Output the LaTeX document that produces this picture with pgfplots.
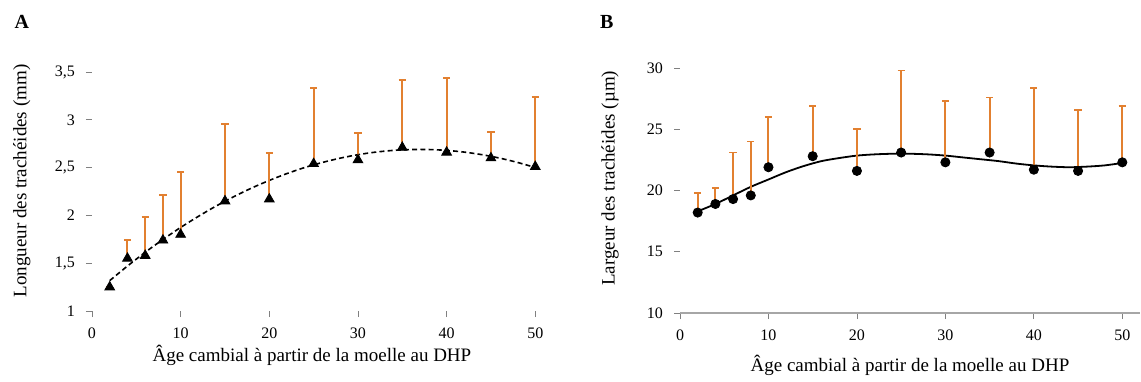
\documentclass[border=0pt]{standalone}
\usepackage{fontspec}
\setmainfont{Liberation Serif}
\usepackage{pgfplots}
\pgfplotsset{compat=1.18}
\definecolor{errorange}{RGB}{226,128,48}
\pgfplotsset{
 panel/.style={
  scale only axis, clip=false,
  axis x line*=bottom, axis y line*=left,
  xmin=0, xmax=52,
  xtick={0,10,...,50},
  tick align=outside,
  major tick length=3pt,
  tick style={gray, line width=0.4pt},
  ticklabel style={font=\fontsize{8}{9}\selectfont},
  xticklabel style={yshift=-2pt},
  yticklabel style={xshift=-2pt},
  label style={font=\fontsize{9.5}{10.5}\selectfont},
  /pgf/number format/assume math mode=true,
  /pgf/number format/use comma,
 },
 ebar/.style={error bars/.cd, y dir=plus, y explicit,
   error bar style={errorange, line width=1pt},
   error mark options={errorange, rotate=90, mark size=1.8pt, line width=0.9pt}},
}
\begin{document}
\begin{tikzpicture}
\path[use as bounding box] (-46pt,-35pt) rectangle (524.5pt,155.5pt);
% Panel A
\begin{axis}[panel, at={(0pt,0pt)}, anchor=south west,
  width=230.5pt, height=119.5pt,
  ymin=1, ymax=3.5, ytick={1,1.5,2,2.5,3,3.5},
  axis line style={draw=none},
  xlabel={Âge cambial à partir de la moelle au DHP},
  xlabel style={at={(axis description cs:0.477,-0.184)}, anchor=center},
  ylabel={Longueur des trachéides (mm)},
  ylabel style={at={(axis description cs:-0.152,0.544)}, anchor=center},
]
\addplot[black, dash pattern=on 2.5pt off 1.6pt, line width=0.8pt, smooth] coordinates {
(2,1.318)(4,1.470)(6,1.614)(8,1.748)(10,1.874)(12,1.990)(14,2.098)(16,2.196)
(18,2.286)(20,2.366)(22,2.438)(24,2.501)(26,2.554)(28,2.599)(30,2.635)(32,2.662)
(34,2.680)(36,2.689)(38,2.689)(40,2.680)(42,2.662)(44,2.635)(46,2.599)(48,2.554)(50,2.501)};
\addplot[only marks, mark=triangle*, mark size=2.8pt, black, ebar]
 table[x=x, y=y, y error=e] {
x y e
2 1.25 0
4 1.55 0.19
6 1.58 0.40
8 1.74 0.47
10 1.80 0.65
15 2.15 0.81
20 2.17 0.48
25 2.54 0.79
30 2.58 0.28
35 2.71 0.71
40 2.66 0.78
45 2.60 0.275
50 2.51 0.73
};
\node[font=\bfseries\fontsize{10}{12}\selectfont] at (axis description cs:-0.152,1.209) {A};
\end{axis}
% Panel B
\begin{axis}[panel, at={(294pt,-1pt)}, anchor=south west,
  width=230pt, height=122.5pt,
  ymin=10, ymax=30, ytick={10,15,20,25,30},
  x axis line style={draw=gray!70, line width=0.7pt},
  y axis line style={draw=none},
  xlabel={Âge cambial à partir de la moelle au DHP},
  xlabel style={at={(axis description cs:0.5,-0.212)}, anchor=center},
  ylabel={Largeur des trachéides (µm)},
  ylabel style={at={(axis description cs:-0.152,0.55)}, anchor=center},
]
\addplot[black, line width=0.9pt, smooth] coordinates {
(2,18.3)(4,18.9)(6,19.6)(8,20.3)(10,20.9)(12,21.5)(14,22.0)(16,22.4)(18,22.65)
(20,22.85)(22,22.95)(24,23.0)(26,23.0)(28,22.95)(30,22.85)(32,22.7)(34,22.55)
(36,22.4)(38,22.2)(40,22.05)(42,21.95)(44,21.9)(46,21.95)(48,22.05)(50,22.25)};
\addplot[only marks, mark=*, mark size=2.3pt, black, ebar]
 table[x=x, y=y, y error=e] {
x y e
2 18.2 1.6
4 18.9 1.3
6 19.3 3.8
8 19.6 4.4
10 21.9 4.1
15 22.8 4.1
20 21.6 3.4
25 23.1 6.7
30 22.3 5.0
35 23.1 4.5
40 21.7 6.7
45 21.6 5.0
50 22.3 4.6
};
\node[font=\bfseries\fontsize{10}{12}\selectfont] at (axis description cs:-0.159,1.188) {B};
\end{axis}
\end{tikzpicture}
\end{document}
